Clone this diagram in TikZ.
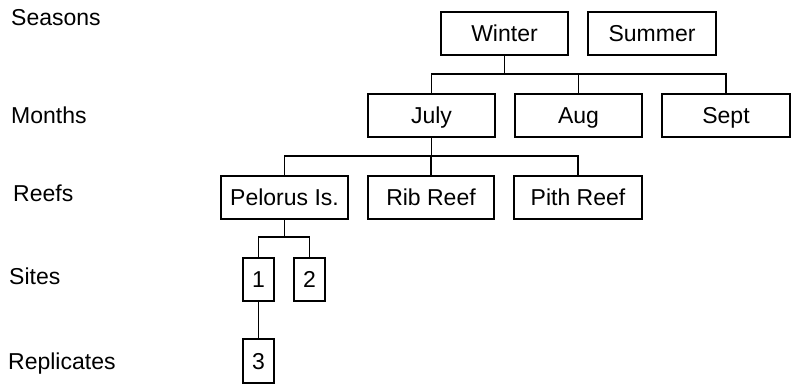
\documentclass[tikz,border=0pt]{standalone}
\usepackage{fontspec}
\setmainfont{Liberation Sans}
\begin{document}
\begin{tikzpicture}[x=1pt,y=-1pt,
  box/.style={draw,line width=1.4pt,inner sep=0pt,minimum height=43pt,font=\fontsize{23}{26}\selectfont,text height=16.5pt,text depth=0pt},
  wide/.style={box,minimum width=127pt},
  narrow/.style={box,minimum width=31pt},
  lvl/.style={anchor=base west,inner sep=0pt,font=\fontsize{23}{26}\selectfont},
  con/.style={line width=1.4pt}]
\useasboundingbox (0,0) rectangle (791,385);
\node[lvl] (lseasons) at (11,26) {Seasons};
\node[lvl] (lmonths) at (11,123) {Months};
\node[lvl] (lreefs) at (13,201) {Reefs};
\node[lvl] (lsites) at (9,284) {Sites};
\node[lvl] (lrepl) at (8,369) {Replicates};
\node[wide] (winter) at (504.5,33.5) {Winter};
\node[wide,minimum width=128pt] (summer) at (652,33.5) {Summer};
\node[wide] (july) at (431.5,115.5) {July};
\node[wide] (aug) at (578.5,115.5) {Aug};
\node[wide,minimum width=128pt] (sept) at (726,115.5) {Sept};
\node[wide] (pelorus) at (284.5,197.5) {Pelorus Is.};
\node[wide,minimum width=126pt] (rib) at (431,197.5) {Rib Reef};
\node[wide,minimum width=128pt] (pith) at (578,197.5) {Pith Reef};
\node[narrow] (s1) at (258.5,279.5) {1};
\node[narrow] (s2) at (309.5,279.5) {2};
\node[narrow,minimum height=44pt] (r3) at (258.5,361) {3};
\coordinate (b1) at (0,74);
\coordinate (b2) at (0,156);
\coordinate (b3) at (0,237);
\draw[con] (winter.south) -- (winter.south |- b1);
\draw[con] (july.north) |- (sept.north |- b1) -- (sept.north);
\draw[con] (aug.north) -- (aug.north |- b1);
\draw[con] (july.south) -- (july.south |- b2);
\draw[con] (pelorus.north) |- (pith.north |- b2) -- (pith.north);
\draw[con] (rib.north) -- (rib.north |- b2);
\draw[con] (pelorus.south) -- (pelorus.south |- b3);
\draw[con] (s1.north) |- (s2.north |- b3) -- (s2.north);
\draw[con] (s1.south) -- (r3.north);
\end{tikzpicture}
\end{document}
